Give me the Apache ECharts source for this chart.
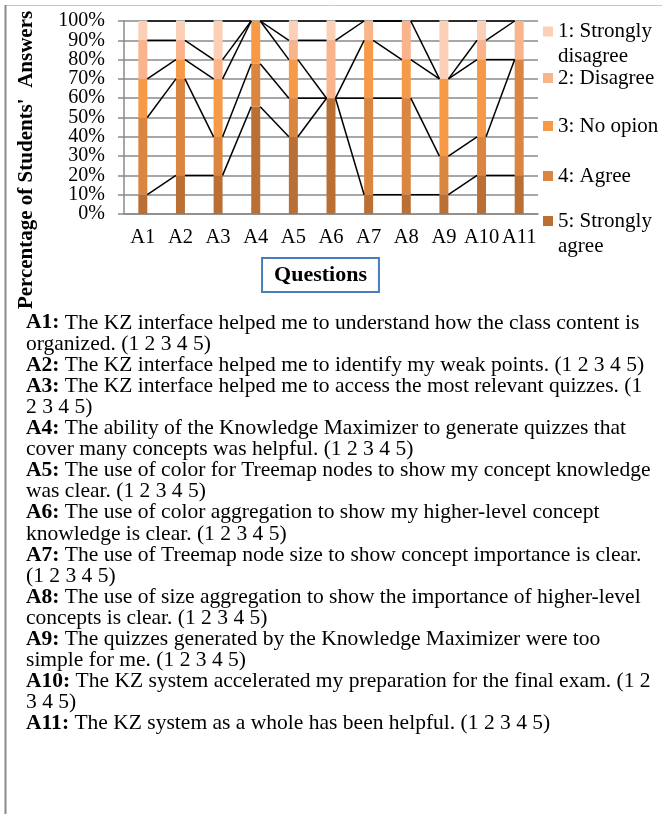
<!DOCTYPE html>
<html><head><meta charset="utf-8">
<script src="https://cdn.jsdelivr.net/npm/echarts@6/dist/echarts.min.js"></script>
<style>html,body{margin:0;padding:0;background:#fff}#c{width:662px;height:814px}</style>
</head><body><div id="c"></div>
<script>
// ---- data ----
const categories = ['A1','A2','A3','A4','A5','A6','A7','A8','A9','A10','A11'];
const stronglyAgree    = [10, 20, 20, 55.6, 40, 60, 10, 10, 10, 20, 20];
const agree            = [40, 50, 20, 22.2, 20,  0, 50, 50, 20, 20, 60];
const noOpinion        = [20, 10, 30, 22.2, 20,  0, 30, 20, 40, 40,  0];
const disagree         = [20, 10, 10,  0,   10, 30, 10, 20,  0, 10, 20];
const stronglyDisagree = [10, 10, 20,  0,   10, 10,  0,  0, 30, 10,  0];
const seriesNames = ['5: Strongly agree','4: Agree','3: No opion','2: Disagree','1: Strongly disagree'];
const yTickLabels = ['0%','10%','20%','30%','40%','50%','60%','70%','80%','90%','100%'];
const yAxisTitle = "Percentage of Students'  Answers";
const xAxisTitle = 'Questions';
const questionLines = [
 ['A1:', ' The KZ interface helped me to understand how the class content is'],
 ['', 'organized. (1 2 3 4 5)'],
 ['A2:', ' The KZ interface helped me to identify my weak points. (1 2 3 4 5)'],
 ['A3:', ' The KZ interface helped me to access the most relevant quizzes. (1'],
 ['', '2 3 4 5)'],
 ['A4:', ' The ability of the Knowledge Maximizer to generate quizzes that'],
 ['', 'cover many concepts was helpful. (1 2 3 4 5)'],
 ['A5:', ' The use of color for Treemap nodes to show my concept knowledge'],
 ['', 'was clear. (1 2 3 4 5)'],
 ['A6:', ' The use of color aggregation to show my higher-level concept'],
 ['', 'knowledge is clear. (1 2 3 4 5)'],
 ['A7:', ' The use of Treemap node size to show concept importance is clear.'],
 ['', '(1 2 3 4 5)'],
 ['A8:', ' The use of size aggregation to show the importance of higher-level'],
 ['', 'concepts is clear. (1 2 3 4 5)'],
 ['A9:', ' The quizzes generated by the Knowledge Maximizer were too'],
 ['', 'simple for me. (1 2 3 4 5)'],
 ['A10:', ' The KZ system accelerated my preparation for the final exam. (1 2'],
 ['', '3 4 5)'],
 ['A11:', ' The KZ system as a whole has been helpful. (1 2 3 4 5)']
];

// ---- styling ----
const FONT = '"Liberation Serif", "Times New Roman", serif';
const colors = ['#BA7034', '#DA8540', '#F79A48', '#F9B48C', '#FCCFB7'];
const BAR_W = 9;
const GRID_C = '#8a8a8a';
const stacks = [stronglyAgree, agree, noOpinion, disagree, stronglyDisagree];
const cum = categories.map((_, i) => { let s = 0; return stacks.map(a => (s += a[i])); });
const linkData = categories.slice(0, -1).map((_, i) => [i, i + 1]);

const chart = echarts.init(document.getElementById('c'), null, {renderer: 'canvas'});

const barSeries = stacks.map((arr, k) => ({
  name: seriesNames[k], type: 'bar', stack: 'total', barWidth: BAR_W, yAxisIndex: 0,
  data: arr, itemStyle: {color: colors[k]}, emphasis: {disabled: true}, z: 2
}));

const linkSeries = {
  type: 'custom', data: linkData, silent: true, z: 3, yAxisIndex: 0,
  encode: {x: [0, 1]},
  renderItem(params, api) {
    const i = api.value(0), j = api.value(1), half = BAR_W / 2;
    const children = cum[i].map((v, k) => {
      const p1 = api.coord([i, v]);
      const p2 = api.coord([j, cum[j][k]]);
      return {type: 'line', shape: {x1: p1[0] + half, y1: p1[1], x2: p2[0] - half, y2: p2[1]},
              style: {stroke: '#000', lineWidth: 1.5}};
    });
    return {type: 'group', children};
  }
};

// legend: one component per item, top-to-bottom 1..5
const legendOrder = [4, 3, 2, 1, 0];
const legendTops = [-6, 65.5, 113.5, 163.5, 183.5];
const legends = legendOrder.map((k, n) => ({
  data: [seriesNames[k]], left: 543, top: legendTops[n], padding: 0,
  orient: 'vertical', icon: 'rect', itemWidth: 10, itemHeight: 10, selectedMode: false,
  formatter: name => /Strongly/.test(name) ? '\n' + name.replace(/ (\S+)$/, '\n$1') : name,
  textStyle: {fontFamily: FONT, fontSize: 21, lineHeight: 25, color: '#000'}
}));

const graphics = [
  {type: 'line', shape: {x1: 5, y1: 5.5, x2: 662, y2: 5.5}, style: {stroke: '#c8c8c8', lineWidth: 1}},
  {type: 'line', shape: {x1: 5.5, y1: 5, x2: 5.5, y2: 814}, style: {stroke: '#8a8a8a', lineWidth: 2}},
  {type: 'text', x: 27, y: 160, rotation: Math.PI / 2,
   style: {text: yAxisTitle, font: 'bold 21px ' + FONT, fill: '#000', align: 'center', verticalAlign: 'middle'}},
  {type: 'text', x: 320.5, y: 275,
   style: {text: xAxisTitle, font: 'bold 22px ' + FONT, fill: '#000', align: 'center', verticalAlign: 'middle',
           borderColor: '#4A7EBB', borderWidth: 2, padding: [5, 11, 5, 11], backgroundColor: '#fff'}}
];
questionLines.forEach((ln, idx) => {
  graphics.push({
    type: 'text', x: 26, y: 323 + idx * 21.1, scaleX: 1.025, originX: 0,
    style: {
      text: (ln[0] ? '{b|' + ln[0] + '}' : '') + ln[1],
      font: '21px ' + FONT, fill: '#000', verticalAlign: 'middle',
      rich: {b: {fontWeight: 'bold', fontSize: 21, fontFamily: FONT, fill: '#000'}}
    }
  });
});

chart.setOption({
  animation: false,
  backgroundColor: '#fff',
  grid: {left: 124, right: 124, top: 21, bottom: 600, containLabel: false},
  legend: legends,
  xAxis: {
    type: 'category', data: categories,
    axisLine: {lineStyle: {color: GRID_C, width: 1.5}},
    axisTick: {show: false},
    axisLabel: {fontFamily: FONT, fontSize: 20.5, color: '#000', margin: 13, interval: 0}
  },
  yAxis: [{
    type: 'value', min: 0, max: 100, interval: 10, position: 'left',
    axisLine: {show: true, lineStyle: {color: GRID_C, width: 1.5}},
    axisTick: {show: true, length: 6, lineStyle: {color: GRID_C, width: 1.5}},
    splitLine: {lineStyle: {color: GRID_C, width: 1.5}},
    axisLabel: {show: false}
  }, {
    type: 'category', data: yTickLabels, boundaryGap: false, position: 'left', offset: 0,
    axisLine: {show: false}, axisTick: {show: false}, splitLine: {show: false},
    axisLabel: {interval: 0, fontFamily: FONT, fontSize: 20, color: '#000', margin: 19}
  }],
  series: [...barSeries, linkSeries],
  graphic: {elements: graphics}
});
</script>
</body></html>
